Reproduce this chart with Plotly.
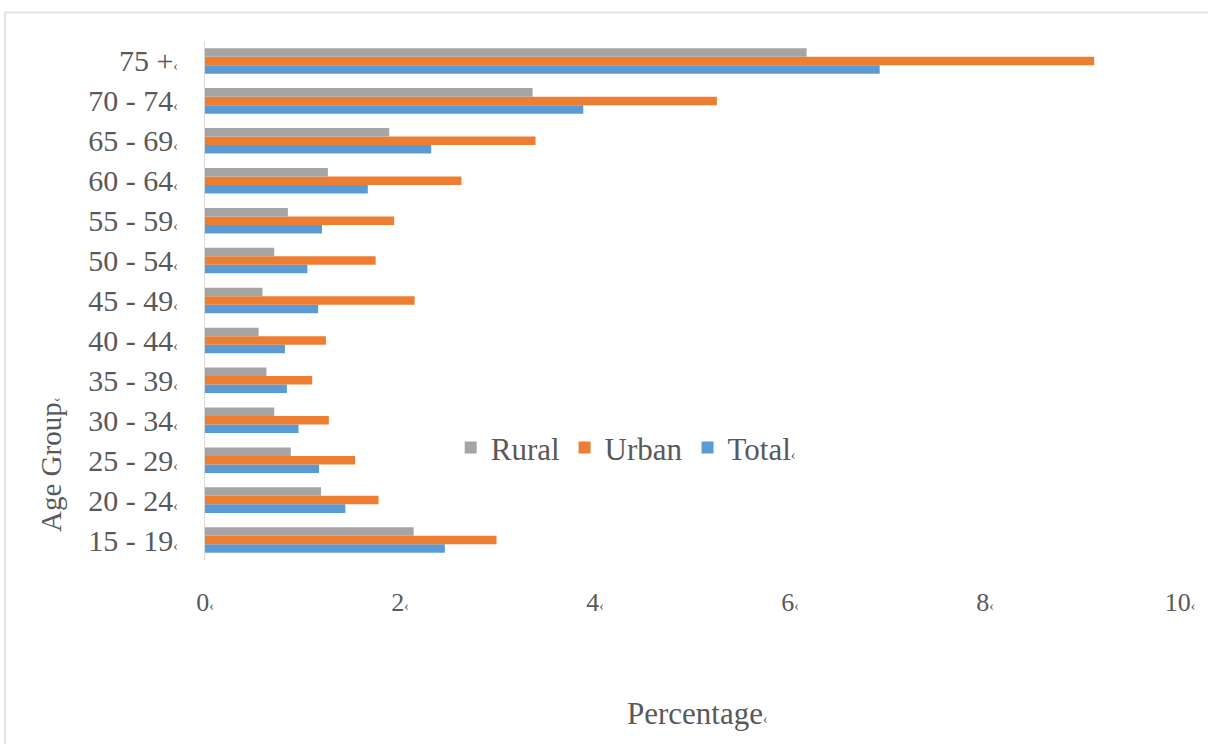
"""Age-group unemployment bars, Rural / Urban / Total."""

import plotly.graph_objects as go

age_groups = ["15 - 19", "20 - 24", "25 - 29", "30 - 34", "35 - 39", "40 - 44", "45 - 49",
              "50 - 54", "55 - 59", "60 - 64", "65 - 69", "70 - 74", "75 +"]
rural = [2.14, 1.19, 0.88, 0.71, 0.63, 0.55, 0.59, 0.71, 0.85, 1.26, 1.89, 3.36, 6.17]
urban = [2.99, 1.78, 1.54, 1.27, 1.10, 1.24, 2.15, 1.75, 1.94, 2.63, 3.39, 5.25, 9.12]
total = [2.46, 1.44, 1.17, 0.96, 0.84, 0.82, 1.16, 1.05, 1.20, 1.67, 2.32, 3.88, 6.92]
x_ticks = [0, 2, 4, 6, 8, 10]

FONT = "Liberation Serif, Times New Roman, serif"
TEXT = "#595959"
MARK = "<span style='font-size:14px'>‹</span>"

series = [("Total", total, "#5B9BD5"), ("Urban", urban, "#ED7D31"), ("Rural", rural, "#A5A5A5")]

fig = go.Figure()
for name, values, color in series:
    fig.add_trace(
        go.Bar(
            y=age_groups,
            x=values,
            name=name + (MARK if name == "Total" else ""),
            orientation="h",
            marker={"color": color, "line": {"width": 0}},
        )
    )

fig.update_layout(
    width=1208,
    height=744,
    barmode="group",
    bargap=0.36,
    bargroupgap=0,
    margin={"l": 205, "r": 28, "t": 41, "b": 184},
    plot_bgcolor="white",
    paper_bgcolor="white",
    font={"family": FONT, "color": TEXT, "size": 28},
    legend={
        "orientation": "h",
        "traceorder": "reversed",
        "x": 0.252,
        "y": 0.216,
        "xanchor": "left",
        "yanchor": "middle",
        "font": {"size": 31, "color": TEXT},
        "bgcolor": "rgba(0,0,0,0)",
        "itemwidth": 30,
    },
    xaxis={
        "range": [0, 10],
        "tickvals": x_ticks,
        "ticktext": [f"{v}{MARK}" for v in x_ticks],
        "showgrid": False,
        "zeroline": False,
        "showline": False,
        "ticks": "",
        "ticklabelstandoff": 24,
        "tickfont": {"size": 26},
    },
    yaxis={
        "tickvals": age_groups,
        "ticktext": [f"{g}{MARK}" for g in age_groups],
        "showgrid": False,
        "zeroline": False,
        "showline": True,
        "linecolor": "#D9D9D9",
        "linewidth": 1,
        "ticks": "",
        "ticklabelstandoff": 20,
        "tickfont": {"size": 30},
    },
    shapes=[
        {
            "type": "rect",
            "xref": "paper",
            "yref": "paper",
            "x0": -0.205,
            "x1": 1.1,
            "y0": -0.5,
            "y1": 1.055,
            "line": {"color": "#E3E3E3", "width": 2},
            "fillcolor": "rgba(0,0,0,0)",
            "layer": "below",
        }
    ],
    annotations=[
        {
            "text": f"Percentage{MARK}",
            "xref": "paper",
            "yref": "paper",
            "x": 0.505,
            "y": -0.296,
            "showarrow": False,
            "font": {"size": 31, "color": TEXT},
            "xanchor": "center",
            "yanchor": "middle",
        },
        {
            "text": f"Age Group{MARK}",
            "xref": "paper",
            "yref": "paper",
            "x": -0.158,
            "y": 0.183,
            "textangle": -90,
            "showarrow": False,
            "font": {"size": 29, "color": TEXT},
            "xanchor": "center",
            "yanchor": "middle",
        },
    ],
)

# the page's default body margin would push the chart 8px off its place
fig.write_html(
    "out.html",
    config={"displayModeBar": False},
    post_script="document.body.style.margin = '0';",
)
